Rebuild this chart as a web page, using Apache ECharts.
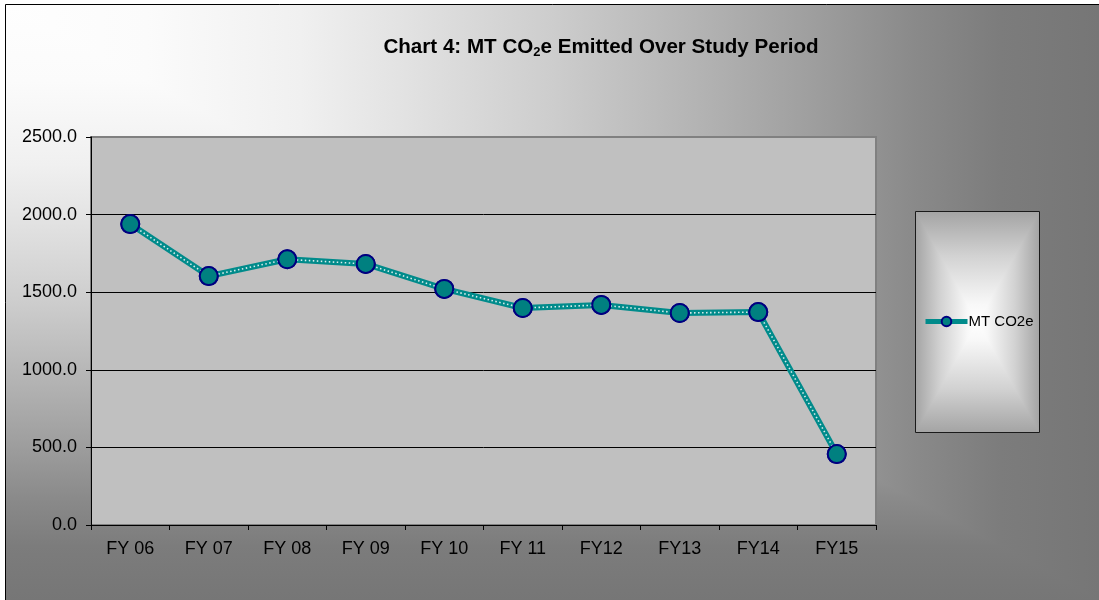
<!DOCTYPE html>
<html>
<head>
<meta charset="utf-8">
<title>Chart 4: MT CO2e Emitted Over Study Period</title>
<script src="https://cdn.jsdelivr.net/npm/echarts@6/dist/echarts.min.js"></script>
<style>
  html, body { margin: 0; padding: 0; background: #ffffff; }
  #chart { width: 1099px; height: 600px; }
</style>
</head>
<body>
<div id="chart"></div>
<script>
const categories = ['FY 06', 'FY 07', 'FY 08', 'FY 09', 'FY 10', 'FY 11', 'FY12', 'FY13', 'FY14', 'FY15'];
const emissions = [1939, 1604, 1712, 1682, 1521, 1398, 1418, 1366, 1372, 457];
const seriesName = 'MT CO2e';
const yTicks = { min: 0, max: 2500, interval: 500 };

const font = '"Liberation Sans", Arial, sans-serif';
const myChart = echarts.init(document.getElementById('chart'), null, { renderer: 'canvas' });

// outer area: "from corner" gradient, white top-left to gray bottom/right
const cornerStops = [
  { offset: 0, color: '#fefefe' },
  { offset: 0.13, color: '#fbfbfb' },
  { offset: 0.27, color: '#f0f0f0' },
  { offset: 0.36, color: '#e3e3e3' },
  { offset: 0.5, color: '#cdcdcd' },
  { offset: 0.64, color: '#b2b2b2' },
  { offset: 0.73, color: '#a0a0a0' },
  { offset: 0.83, color: '#8a8a8a' },
  { offset: 0.91, color: '#7c7c7c' },
  { offset: 1, color: '#767676' }
];

// legend box: "from centre" gradient, built from a rect and two triangles
const lg = { x: 915.5, y: 211.5, w: 124, h: 221 };
const lcx = lg.x + lg.w / 2, lcy = lg.y + lg.h / 2;
const edgeToCentre = [
  { offset: 0, color: '#a4a4a4' },
  { offset: 0.4, color: '#d2d2d2' },
  { offset: 0.84, color: '#f8f8f8' },
  { offset: 1, color: '#ffffff' }
];

// marker style shared by the teal line and the dotted overlay
const marker = {
  color: '#008080',
  borderColor: '#000080',
  borderWidth: 2
};

const option = {
  animation: false,
  backgroundColor: '#ffffff',
  graphic: [
    {
      type: 'rect', z: -12, silent: true,
      shape: { x: 5, y: 4, width: 1100, height: 600 },
      style: { fill: { type: 'linear', x: 0, y: 4, x2: 0, y2: 600, global: true, colorStops: cornerStops } }
    },
    {
      type: 'polygon', z: -11, silent: true,
      shape: { points: [[5, 4], [1100, 4], [1100, 601]] },
      style: { fill: { type: 'linear', x: 5, y: 0, x2: 1099, y2: 0, global: true, colorStops: cornerStops } }
    },
    {
      type: 'rect', z: -10, silent: true,
      shape: { x: 5.5, y: 4.5, width: 1100, height: 600 },
      style: { fill: 'none', stroke: '#000000', lineWidth: 1 }
    },
    {
      type: 'rect', z: -9, silent: true,
      shape: { x: lg.x, y: lg.y, width: lg.w, height: lg.h },
      style: {
        fill: {
          type: 'linear', x: lg.x, y: 0, x2: lg.x + lg.w, y2: 0, global: true,
          colorStops: [
            { offset: 0, color: '#a4a4a4' },
            { offset: 0.2, color: '#d2d2d2' },
            { offset: 0.42, color: '#f8f8f8' },
            { offset: 0.5, color: '#ffffff' },
            { offset: 0.58, color: '#f8f8f8' },
            { offset: 0.8, color: '#d2d2d2' },
            { offset: 1, color: '#a4a4a4' }
          ]
        }
      }
    },
    {
      type: 'polygon', z: -8, silent: true,
      shape: { points: [[lg.x, lg.y], [lg.x + lg.w, lg.y], [lcx, lcy]] },
      style: { fill: { type: 'linear', x: 0, y: lg.y, x2: 0, y2: lcy, global: true, colorStops: edgeToCentre } }
    },
    {
      type: 'polygon', z: -8, silent: true,
      shape: { points: [[lg.x, lg.y + lg.h], [lg.x + lg.w, lg.y + lg.h], [lcx, lcy]] },
      style: { fill: { type: 'linear', x: 0, y: lg.y + lg.h, x2: 0, y2: lcy, global: true, colorStops: edgeToCentre } }
    },
    {
      type: 'rect', z: -7, silent: true,
      shape: { x: lg.x, y: lg.y, width: lg.w, height: lg.h },
      style: { fill: 'none', stroke: '#1a1a1a', lineWidth: 1 }
    }
  ],
  title: {
    text: '{a|Chart 4: MT CO}{s|2}{a|e Emitted Over Study Period}',
    left: 596,
    textAlign: 'center',
    top: 29,
    textStyle: {
      rich: {
        a: { fontFamily: font, fontSize: 20.6, fontWeight: 'bold', color: '#000000', lineHeight: 26 },
        s: { fontFamily: font, fontSize: 13, fontWeight: 'bold', color: '#000000', lineHeight: 26, padding: [11, 0, 0, 0] }
      }
    }
  },
  legend: {
    data: [seriesName],
    left: 918,
    top: 309,
    itemWidth: 42,
    itemHeight: 12,
    itemGap: 2,
    lineStyle: { width: 5, color: '#008b8b' },
    textStyle: { fontFamily: font, fontSize: 15, color: '#000000', padding: [0, 0, 0, -4] }
  },
  grid: {
    left: 91,
    right: 223,
    top: 137,
    bottom: 75,
    show: true,
    backgroundColor: '#c0c0c0',
    borderColor: '#808080',
    borderWidth: 2
  },
  xAxis: {
    type: 'category',
    data: categories,
    boundaryGap: true,
    axisLine: { lineStyle: { color: '#000000', width: 1 } },
    axisTick: { show: true, length: 5, inside: false, lineStyle: { color: '#000000' } },
    axisLabel: { fontFamily: font, fontSize: 18, color: '#000000', margin: 15 }
  },
  yAxis: {
    type: 'value',
    min: yTicks.min,
    max: yTicks.max,
    interval: yTicks.interval,
    axisLine: { show: true, lineStyle: { color: '#000000', width: 1 } },
    axisTick: { show: true, length: 5, lineStyle: { color: '#000000' } },
    axisLabel: {
      fontFamily: font, fontSize: 18, color: '#000000', margin: 14,
      formatter: v => v.toFixed(1)
    },
    splitLine: {
      show: true,
      lineStyle: { color: ['#000000', '#000000', '#000000', '#000000', '#000000', '#808080'], width: 1 }
    }
  },
  series: [
    {
      name: seriesName,
      type: 'line',
      data: emissions,
      symbol: 'circle',
      symbolSize: 18,
      lineStyle: { color: '#008b8b', width: 6 },
      itemStyle: marker,
      z: 2
    },
    {
      // white dotted centre of the line, markers redrawn on top
      name: 'overlay',
      type: 'line',
      data: emissions,
      symbol: 'circle',
      symbolSize: 18,
      lineStyle: { color: 'rgba(255,255,255,0.85)', width: 1.6, type: [1.5, 2.5] },
      itemStyle: marker,
      z: 3
    }
  ]
};

myChart.setOption(option);
</script>
</body>
</html>
